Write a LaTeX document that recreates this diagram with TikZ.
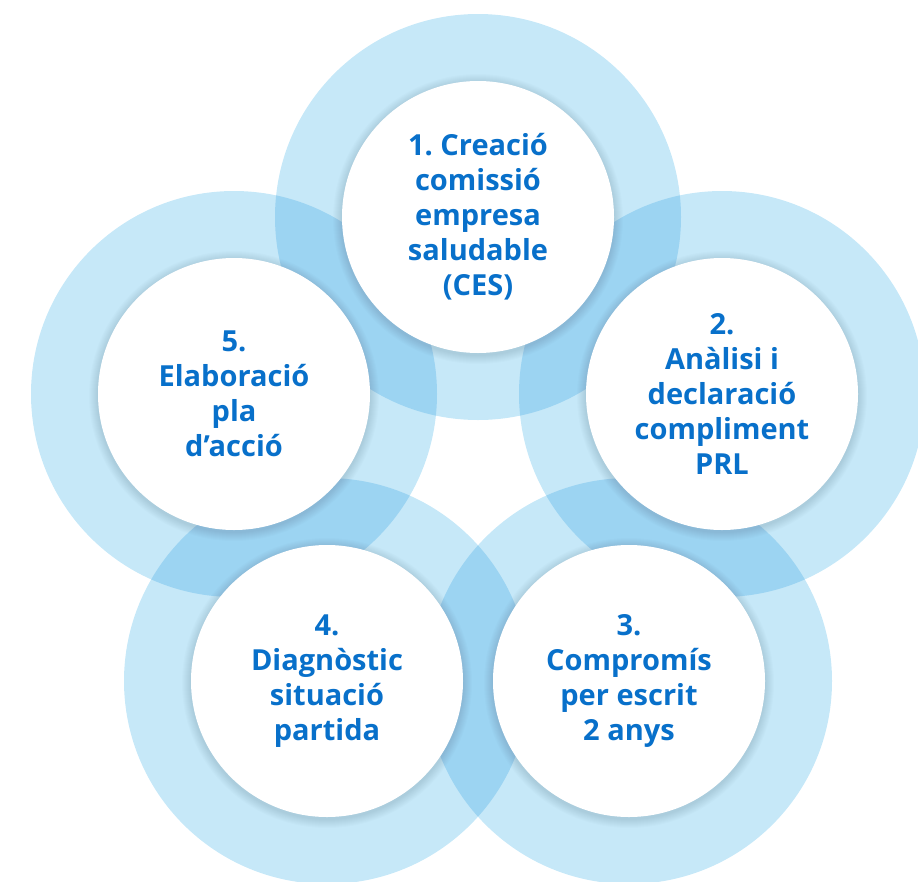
\documentclass[tikz,border=0pt]{standalone}
\usepackage{fontspec}
\setmainfont{Open Sans}
\frenchspacing
\definecolor{ringc}{RGB}{198,232,248}
\definecolor{overc}{RGB}{156,212,242}
\definecolor{txtc}{RGB}{8,112,202}
\tikzset{
  ringdisc/.style={fill=ringc},
  overdisc/.style={fill=overc},
  stepcircle/.style={circle, fill=white, minimum size=272pt, inner sep=0pt,
    align=center, text=txtc, font=\bfseries\fontsize{29}{35}\selectfont},
  shadowdisc/.style={fill=black, opacity=0.012}
}
\begin{document}
\begin{tikzpicture}[x=1pt,y=-1pt]
\useasboundingbox (0,0) rectangle (918,881);
\coordinate (c1) at (478,217);
\coordinate (c2) at (722,394);
\coordinate (c3) at (629,681);
\coordinate (c4) at (327,681);
\coordinate (c5) at (234,394);
% outer rings
\foreach \c in {c1,c2,c3,c4,c5} \fill[ringdisc] (\c) circle (203pt);
% overlaps
\foreach \a/\b in {c1/c2,c2/c3,c3/c4,c4/c5,c5/c1} {
  \begin{scope}
    \clip (\a) circle (203pt);
    \fill[overdisc] (\b) circle (203pt);
  \end{scope}
}
% soft shadows
\foreach \c in {c1,c2,c3,c4,c5} {
  \foreach \r in {137,138,...,145} \fill[shadowdisc] ([yshift=-2pt]\c) circle (\r pt);
}
% white circles with text
\node[stepcircle] (n1) at (c1) {1. Creació\\comissió\\empresa\\saludable\\(CES)};
\node[stepcircle] (n2) at (c2) {2.\\Anàlisi i\\declaració\\compliment\\PRL};
\node[stepcircle] (n3) at (c3) {3.\\Compromís\\per escrit\\2 anys};
\node[stepcircle] (n4) at (c4) {4.\\Diagnòstic\\situació\\partida};
\node[stepcircle] (n5) at (c5) {5.\\Elaboració\\pla\\d’acció};
\end{tikzpicture}
\end{document}
